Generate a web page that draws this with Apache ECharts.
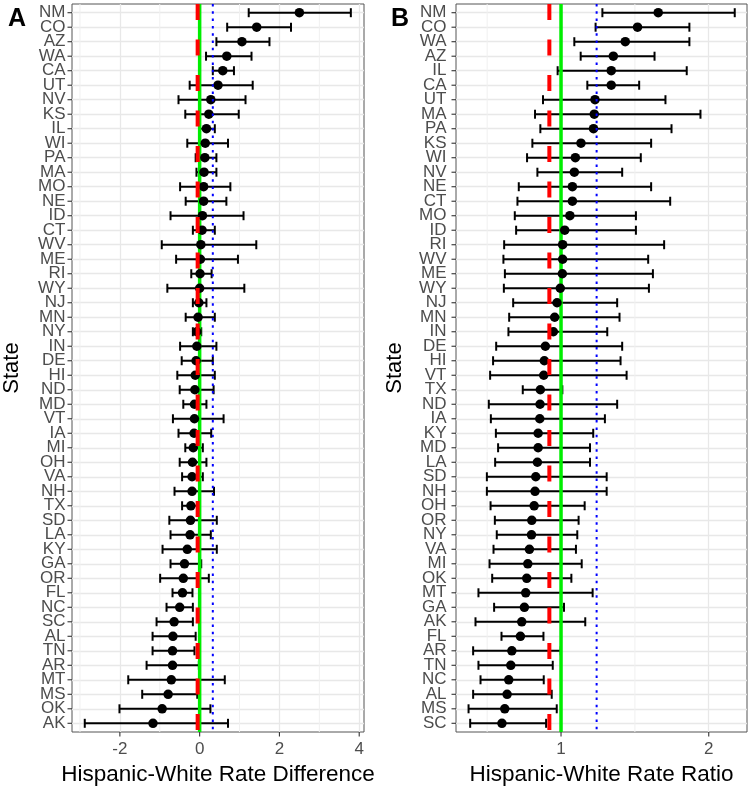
<!DOCTYPE html>
<html>
<head>
<meta charset="utf-8">
<script src="https://cdn.jsdelivr.net/npm/echarts@6/dist/echarts.min.js"></script>
<style>
  html, body { margin: 0; padding: 0; background: #fff; }
  #main { width: 753px; height: 791px; }
</style>
</head>
<body>
<div id="main"></div>
<script>
// Panel A: Hispanic-White rate difference (top to bottom)
var statesA = ['NM','CO','AZ','WA','CA','UT','NV','KS','IL','WI','PA','MA','MO','NE','ID','CT','WV','ME','RI','WY',
               'NJ','MN','NY','IN','DE','HI','ND','MD','VT','IA','MI','OH','VA','NH','TX','SD','LA','KY','GA','OR',
               'FL','NC','SC','AL','TN','AR','MT','MS','OK','AK'];
var diffEst = [2.5,1.43,1.06,0.68,0.58,0.46,0.28,0.23,0.17,0.14,0.13,0.11,0.1,0.1,0.07,0.06,0.03,0.02,0.01,0,
               -0.02,-0.04,-0.07,-0.07,-0.09,-0.11,-0.12,-0.13,-0.13,-0.14,-0.16,-0.18,-0.19,-0.19,-0.22,-0.23,-0.24,-0.31,-0.38,-0.41,
               -0.43,-0.5,-0.64,-0.67,-0.68,-0.68,-0.71,-0.79,-0.94,-1.17];
var diffLo = [1.23,0.69,0.42,0.16,0.33,-0.25,-0.53,-0.36,0,-0.31,-0.1,-0.08,-0.49,-0.35,-0.73,-0.17,-0.95,-0.59,-0.21,-0.81,
              -0.17,-0.35,-0.17,-0.49,-0.45,-0.56,-0.5,-0.41,-0.67,-0.53,-0.36,-0.5,-0.44,-0.63,-0.44,-0.76,-0.73,-0.93,-0.73,-0.99,
              -0.68,-0.83,-1.08,-1.18,-1.18,-1.33,-1.79,-1.44,-2.01,-2.88];
var diffHi = [3.79,2.29,1.75,1.3,0.86,1.33,1.15,0.98,0.38,0.71,0.42,0.42,0.77,0.67,1.1,0.38,1.42,0.96,0.3,1.12,
              0.17,0.38,0.04,0.42,0.33,0.38,0.35,0.17,0.6,0.29,0.08,0.17,0.08,0.36,0,0.43,0.28,0.43,0.04,0.23,
              -0.18,-0.17,-0.17,-0.1,-0.13,-0.02,0.63,-0.06,0.27,0.71];
var diffRef = { red: -0.05, green: 0, blue: 0.33 };
var diffTicks = [-2, 0, 2, 4];
var diffMinor = [-3, -1, 1, 3];

// Panel B: Hispanic-White rate ratio (top to bottom)
var statesB = ['NM','CO','WA','AZ','IL','CA','UT','MA','PA','KS','WI','NV','NE','CT','MO','ID','RI','WV','ME','WY',
               'NJ','MN','IN','DE','HI','VT','TX','ND','IA','KY','MD','LA','SD','NH','OH','OR','NY','VA','MI','OK',
               'MT','GA','AK','FL','AR','TN','NC','AL','MS','SC'];
var ratioEst = [1.658,1.518,1.435,1.354,1.34,1.34,1.23,1.225,1.22,1.135,1.097,1.09,1.077,1.077,1.06,1.025,1.011,1.011,1.009,0.995,
                0.973,0.957,0.948,0.894,0.887,0.883,0.86,0.858,0.856,0.845,0.845,0.84,0.829,0.824,0.818,0.802,0.8,0.786,0.775,0.768,
                0.761,0.752,0.734,0.725,0.667,0.66,0.646,0.635,0.619,0.6];
var ratioLo = [1.28,1.234,1.09,1.133,0.977,1.178,0.878,0.824,0.86,0.806,0.77,0.84,0.714,0.705,0.687,0.696,0.615,0.61,0.62,0.613,
               0.676,0.649,0.644,0.561,0.54,0.52,0.741,0.511,0.525,0.559,0.574,0.554,0.498,0.498,0.523,0.552,0.565,0.543,0.516,0.534,
               0.441,0.547,0.421,0.597,0.405,0.441,0.455,0.405,0.374,0.385];
var ratioHi = [2.176,1.869,1.869,1.633,1.851,1.529,1.707,1.944,1.748,1.61,1.54,1.414,1.61,1.739,1.507,1.507,1.698,1.59,1.622,1.595,
               1.38,1.396,1.313,1.414,1.403,1.444,1.009,1.38,1.297,1.218,1.196,1.196,1.309,1.309,1.16,1.119,1.11,1.101,1.14,1.07,
               1.214,1.02,1.164,0.881,0.998,0.944,0.883,0.937,0.971,0.899];
var ratioRef = { red: 0.921, green: 1, blue: 1.241 };
var ratioTicks = [1, 2];
var ratioMinor = [0.5, 1.5];

var rowIdx = statesA.map(function (s, i) { return i; });
var FONT = '"Liberation Sans", Arial, Helvetica, sans-serif';
var TICK = { stroke: '#333', lineWidth: 1.1 };

function renderBar(params, api) {
  var y = api.value(2);
  var a = api.coord([api.value(0), y]);
  var b = api.coord([api.value(1), y]);
  var h = 4.5;
  var st = { stroke: '#000', lineWidth: 2 };
  return {
    type: 'group',
    children: [
      { type: 'line', shape: { x1: a[0], y1: a[1], x2: b[0], y2: b[1] }, style: st },
      { type: 'line', shape: { x1: a[0], y1: a[1] - h, x2: a[0], y2: a[1] + h }, style: st },
      { type: 'line', shape: { x1: b[0], y1: b[1] - h, x2: b[0], y2: b[1] + h }, style: st }
    ]
  };
}

// small outward ticks on the left edge (rows) and bottom edge (x breaks)
function renderYTick(params, api) {
  var cs = params.coordSys;
  var y = api.coord([api.value(0), api.value(1)])[1];
  return { type: 'line', shape: { x1: cs.x - 4.5, y1: y, x2: cs.x, y2: y }, style: TICK };
}
function renderXTick(params, api) {
  var cs = params.coordSys;
  var x = api.coord([api.value(0), api.value(1)])[0];
  var y0 = cs.y + cs.height;
  return { type: 'line', shape: { x1: x, y1: y0, x2: x, y2: y0 + 4.5 }, style: TICK };
}

function vline(idx, v, color, width, dash, z) {
  return {
    type: 'line', xAxisIndex: idx, yAxisIndex: idx, z: z,
    data: [[v, -0.6], [v, 49.6]],
    showSymbol: false, symbol: 'none', silent: true, animation: false,
    lineStyle: { color: color, width: width, type: dash, cap: 'butt' }
  };
}

function panelSeries(idx, lo, hi, est, ref, minor, ticks, x0) {
  var out = [];
  minor.forEach(function (m) { out.push(vline(idx, m, '#f0f0f0', 1, 'solid', 0)); });
  out.push({
    type: 'custom', xAxisIndex: idx, yAxisIndex: idx, z: 2,
    renderItem: renderBar, animation: false,
    encode: { x: [0, 1], y: 2 },
    data: lo.map(function (v, i) { return [v, hi[i], i]; })
  });
  out.push(vline(idx, ref.green, '#00ee00', 3.5, 'solid', 3));
  out.push({
    type: 'scatter', xAxisIndex: idx, yAxisIndex: idx, z: 4,
    symbolSize: 9.5, itemStyle: { color: '#000', opacity: 1 }, animation: false,
    data: est.map(function (v, i) { return [v, i]; })
  });
  out.push(vline(idx, ref.red, '#ff0000', 4, [16, 19.5], 5));
  out.push(vline(idx, ref.blue, '#0000ff', 2, [2.5, 4.8], 5));
  out.push({
    type: 'custom', xAxisIndex: idx, yAxisIndex: idx, z: 6, clip: false, silent: true, animation: false,
    renderItem: renderYTick,
    data: rowIdx.map(function (i) { return [x0, i]; })
  });
  out.push({
    type: 'custom', xAxisIndex: idx, yAxisIndex: idx, z: 6, clip: false, silent: true, animation: false,
    renderItem: renderXTick,
    data: ticks.map(function (t) { return [t, 0]; })
  });
  return out;
}

function xAx(idx, min, max, ticks, name) {
  return {
    type: 'value', gridIndex: idx, min: min, max: max,
    name: name, nameLocation: 'middle', nameGap: 29,
    nameTextStyle: { fontFamily: FONT, fontSize: 22.5, color: '#000' },
    axisLine: { show: false, onZero: false },
    axisTick: { show: false, customValues: ticks },
    axisLabel: { customValues: ticks, margin: 9, fontFamily: FONT, fontSize: 17, color: '#4d4d4d' },
    splitLine: { show: true, lineStyle: { color: '#e8e8e8', width: 1.3 } }
  };
}

// value axis used by the marks: rows sit on integers, padded by 0.6 row like ggplot
function yAx(idx) {
  return {
    type: 'value', gridIndex: idx, min: -0.6, max: 49.6, inverse: true,
    axisLine: { show: false, onZero: false },
    axisTick: { show: false, customValues: rowIdx },
    axisLabel: { show: false, customValues: rowIdx },
    splitLine: { show: true, lineStyle: { color: '#e8e8e8', width: 1.3 } }
  };
}

// category axis that only carries the state names
function yCat(idx, states, gap) {
  return {
    type: 'category', gridIndex: idx, data: states, inverse: true, boundaryGap: true,
    name: 'State', nameLocation: 'middle', nameGap: gap, nameRotate: 90,
    nameTextStyle: { fontFamily: FONT, fontSize: 22, color: '#000' },
    axisLine: { show: false, onZero: false },
    axisTick: { show: false },
    axisLabel: { interval: 0, margin: 9.5, fontFamily: FONT, fontSize: 17, color: '#4d4d4d' },
    splitLine: { show: false }
  };
}

function xHidden(idx) {
  return { type: 'value', gridIndex: idx, show: false, min: 0, max: 1 };
}

// 50 rows, panel padded by 0.6 row at both ends
var rowPx = 728 / 50.2;

var chart = echarts.init(document.getElementById('main'), null, { renderer: 'canvas' });
chart.setOption({
  backgroundColor: '#fff',
  animation: false,
  title: [
    { text: 'A', left: 3, top: 2, textStyle: { fontFamily: FONT, fontSize: 25, fontWeight: 'bold', color: '#000' } },
    { text: 'B', left: 386, top: 2, textStyle: { fontFamily: FONT, fontSize: 25, fontWeight: 'bold', color: '#000' } }
  ],
  grid: [
    { left: 72, top: 4, width: 292, height: 728, show: true, borderColor: '#555', borderWidth: 1, backgroundColor: 'transparent' },
    { left: 456, top: 4, width: 291, height: 728, show: true, borderColor: '#555', borderWidth: 1, backgroundColor: 'transparent' },
    { left: 72, top: 4 + 0.1 * rowPx, width: 292, height: 50 * rowPx, show: false },
    { left: 456, top: 4 + 0.1 * rowPx, width: 291, height: 50 * rowPx, show: false }
  ],
  xAxis: [
    xAx(0, -3.2, 4.12, diffTicks, 'Hispanic-White Rate Difference'),
    xAx(1, 0.289, 2.259, ratioTicks, 'Hispanic-White Rate Ratio'),
    xHidden(2), xHidden(3)
  ],
  yAxis: [ yAx(0), yAx(1), yCat(2, statesA, 52), yCat(3, statesB, 50) ],
  series: panelSeries(0, diffLo, diffHi, diffEst, diffRef, diffMinor, diffTicks, 0)
    .concat(panelSeries(1, ratioLo, ratioHi, ratioEst, ratioRef, ratioMinor, ratioTicks, 1))
});
</script>
</body>
</html>
